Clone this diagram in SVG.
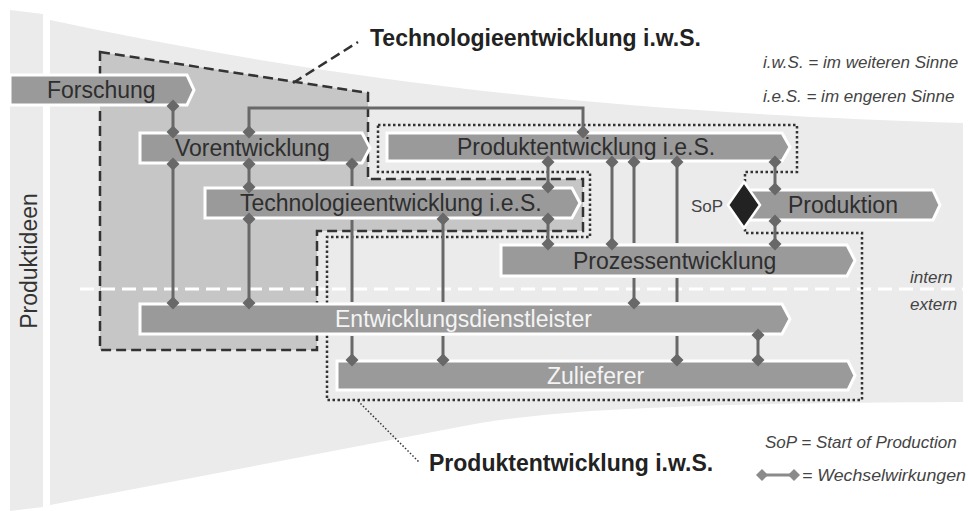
<svg xmlns="http://www.w3.org/2000/svg" width="968" height="511" viewBox="0 0 968 511">
<defs>
<style>
text{font-family:"Liberation Sans",Arial,sans-serif}
.box{fill:#9a9a9a;stroke:#fff;stroke-width:3}
.lbl{font-size:23px;fill:#2e2e2e}
.lblw{font-size:23px;fill:#f4f4f4}
.conn{fill:none;stroke:#686868;stroke-width:3;marker-start:url(#dm);marker-end:url(#dm)}
.legend{font-size:17px;font-style:italic;fill:#444}
.title{font-size:23px;font-weight:bold;fill:#222}
.dashed{fill:none;stroke:#333;stroke-width:2.5;stroke-dasharray:10 5}
.dotted{fill:none;stroke:#333;stroke-width:2.5;stroke-dasharray:2.5 2.5}
</style>
<marker id="dm" viewBox="-7 -7 14 14" refX="0" refY="0" markerWidth="14" markerHeight="14" markerUnits="userSpaceOnUse" orient="auto"><path d="M0,-6.5 L6.5,0 L0,6.5 L-6.5,0 Z" fill="#686868"/></marker>
<marker id="dl" viewBox="-7 -7 14 14" refX="0" refY="0" markerWidth="14" markerHeight="14" markerUnits="userSpaceOnUse" orient="auto"><path d="M0,-6 L6,0 L0,6 L-6,0 Z" fill="#8a8a8a"/></marker>
</defs>
<rect width="968" height="511" fill="#fff"/>
<g id="background">
<polygon points="10,10 43,14 43,507 10,511" fill="#ebebeb"/>
<path d="M50,20 C330,80 600,112 963,123 L963,402 C680,403 560,410 480,423 L50,505 Z" fill="#ebebeb"/>
<path d="M100,52 L368,93 V179 H583 V231 H317 V350 H100 Z" fill="#c6c6c6"/>
<line x1="80" y1="289" x2="968" y2="289" stroke="#fff" stroke-width="3" stroke-dasharray="14 7"/>
</g>
<g id="regions">
<path class="dashed" d="M100,52 L368,93 V179 H583 V231 H317 V350 H100 Z"/>
<line class="dashed" x1="293" y1="83" x2="358" y2="42"/>
<path class="dotted" d="M378,125 H797 V172 H745 V233 H862 V400 H327 V237 H590 V172 H378 Z"/>
<line x1="358" y1="401" x2="419" y2="462" stroke="#333" stroke-width="1.5" stroke-dasharray="1.5 2"/>
</g>
<g id="node-forschung">
<path class="box" d="M10,75 H187 L194,90 L187,105 H10 Z"/>
<text class="lbl" x="47" y="98">Forschung</text>
</g>
<g id="node-vorentwicklung">
<path class="box" d="M140,133 H362 L370,148 L362,163 H140 Z"/>
<text class="lbl" x="175" y="156">Vorentwicklung</text>
</g>
<g id="node-produktentwicklung-ies">
<path class="box" d="M387,133 H782 L790,147 L782,161 H387 Z"/>
<text class="lbl" x="457" y="155">Produktentwicklung i.e.S.</text>
</g>
<g id="node-technologieentwicklung-ies">
<path class="box" d="M205,188 H572 L580,203 L572,218 H205 Z"/>
<text class="lbl" x="240" y="211">Technologieentwicklung i.e.S.</text>
</g>
<g id="node-produktion">
<path class="box" d="M748,190 H933 L940,205 L933,220 H748 Z"/>
<text class="lbl" x="788" y="213">Produktion</text>
</g>
<g id="node-sop">
<polygon points="744,182 760,205 744,228 728,205" fill="#222" stroke="#fff" stroke-width="2.5"/>
<text x="691" y="212" font-size="17" fill="#444" font-family="Liberation Sans, Arial, sans-serif">SoP</text>
</g>
<g id="node-prozessentwicklung">
<path class="box" d="M501,245 H847 L855,260.5 L847,276 H501 Z"/>
<text class="lbl" x="573" y="269">Prozessentwicklung</text>
</g>
<g id="node-entwicklungsdienstleister">
<path class="box" d="M140,304 H782 L790,319 L782,334 H140 Z"/>
<text class="lblw" x="335" y="327">Entwicklungsdienstleister</text>
</g>
<g id="node-zulieferer">
<path class="box" d="M337,361 H848 L855,375.5 L848,390 H337 Z"/>
<text class="lblw" x="547" y="384">Zulieferer</text>
</g>
<g id="connectors">
<path class="conn" d="M173,106 V132"/>
<path class="conn" d="M249,132 V108 H583 V132"/>
<path class="conn" d="M173,164 V303"/>
<path class="conn" d="M249,164 V187"/>
<path class="conn" d="M249,219 V303"/>
<path class="conn" d="M352,164 V186 M352,220 V302 M352,336 V360"/>
<path class="conn" d="M443,219 V302 M443,336 V360"/>
<path class="conn" d="M548,162 V187"/>
<path class="conn" d="M548,219 V244"/>
<path class="conn" d="M612,162 V244"/>
<path class="conn" d="M634,162 V243 M634,278 V303"/>
<path class="conn" d="M677,162 V243 M677,278 V302 M677,336 V360"/>
<path class="conn" d="M775,162 V189"/>
<path class="conn" d="M775,221 V244"/>
<path class="conn" d="M758,335 V360"/>
</g>
<g id="annotations">
<text class="title" x="370" y="46">Technologieentwicklung i.w.S.</text>
<text class="title" x="429" y="471">Produktentwicklung i.w.S.</text>
<text x="0" y="0" transform="translate(37,261) rotate(-90)" text-anchor="middle" font-size="23" fill="#333" font-family="Liberation Sans, Arial, sans-serif">Produktideen</text>
<text class="legend" x="763" y="68">i.w.S. = im weiteren Sinne</text>
<text class="legend" x="763" y="102">i.e.S. = im engeren Sinne</text>
<text class="legend" x="910" y="283">intern</text>
<text class="legend" x="910" y="310">extern</text>
<text class="legend" x="765" y="448">SoP = Start of Production</text>
<line x1="762" y1="475" x2="794" y2="475" stroke="#8a8a8a" stroke-width="3" marker-start="url(#dl)" marker-end="url(#dl)"/>
<text class="legend" x="802" y="481" textLength="164" lengthAdjust="spacingAndGlyphs">= Wechselwirkungen</text>
</g>
</svg>
